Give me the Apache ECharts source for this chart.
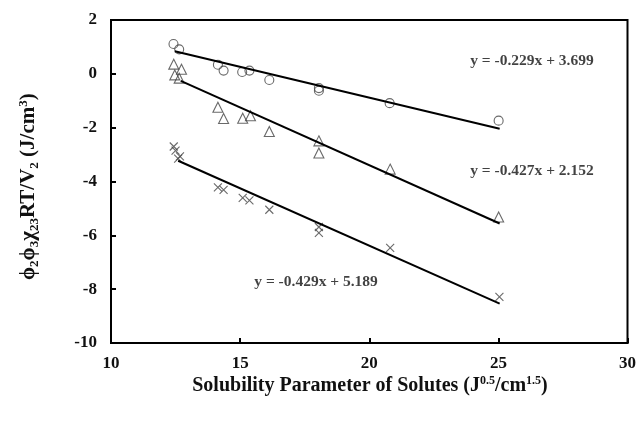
<!DOCTYPE html>
<html><head><meta charset="utf-8">
<script src="https://cdn.jsdelivr.net/npm/echarts@6/dist/echarts.min.js"></script>
<style>html,body{margin:0;padding:0;background:#fff}#c{width:639px;height:421px}</style>
</head><body><div id="c"></div>
<script>
// x values: solubility parameter of solutes
const circleX = [12.42, 12.64, 14.14, 14.36, 15.08, 15.36, 16.13, 18.05, 18.05, 20.79, 25.01];
const circleY = [1.11, 0.91, 0.34, 0.12, 0.07, 0.12, -0.23, -0.53, -0.63, -1.09, -1.74];
const triX = [12.43, 12.73, 12.47, 12.64, 14.14, 14.36, 15.10, 15.40, 16.13, 18.05, 18.05, 20.81, 25.01];
const triY = [0.36, 0.17, -0.04, -0.16, -1.24, -1.66, -1.65, -1.56, -2.14, -2.49, -2.94, -3.54, -5.32];
const crossX = [12.43, 12.50, 12.67, 12.60, 14.14, 14.36, 15.10, 15.36, 16.13, 18.05, 18.05, 20.81, 25.04];
const crossY = [-2.70, -2.85, -3.07, -3.15, -4.22, -4.31, -4.61, -4.70, -5.05, -5.69, -5.91, -6.47, -8.29];
// fitted line end points
const fitCircleX = [12.47, 25.05];
const fitCircleY = [0.84, -2.04];
const fitTriX = [12.70, 25.05];
const fitTriY = [-0.26, -5.56];
const fitCrossX = [12.60, 25.05];
const fitCrossY = [-3.23, -8.54];
// equation annotations
const eqText = ['y = -0.229x + 3.699', 'y = -0.427x + 2.152', 'y = -0.429x + 5.189'];
const eqX = [26.3, 26.3, 17.94];
const eqY = [0.48, -3.6, -7.75];
const xTicks = [10, 15, 20, 25, 30];
const yTicks = [-10, -8, -6, -4, -2, 0, 2];

const zip = (a, b) => a.map((v, i) => [v, b[i]]);
const FONT = '"Liberation Serif", "Times New Roman", serif';
const markStyle = {color: 'transparent', borderColor: '#444', borderWidth: 1.1};
const chart = echarts.init(document.getElementById('c'));
chart.setOption({
  animation: false,
  backgroundColor: '#fff',
  grid: {left: 111, right: 8, top: 20, bottom: 78, show: true, borderColor: '#000', borderWidth: 2, backgroundColor: 'transparent'},
  xAxis: {type: 'value', min: xTicks[0], max: xTicks[xTicks.length - 1], interval: 5,
    splitLine: {show: false},
    axisLine: {onZero: false, lineStyle: {color: '#000', width: 2}},
    axisTick: {inside: true, length: 5, lineStyle: {color: '#000', width: 2}},
    axisLabel: {color: '#111', fontFamily: FONT, fontWeight: 'bold', fontSize: 17, margin: 12}},
  yAxis: {type: 'value', min: yTicks[0], max: yTicks[yTicks.length - 1], interval: 2,
    splitLine: {show: false},
    axisLine: {onZero: false, lineStyle: {color: '#000', width: 2}},
    axisTick: {inside: true, length: 5, lineStyle: {color: '#000', width: 2}},
    axisLabel: {color: '#111', fontFamily: FONT, fontWeight: 'bold', fontSize: 17, margin: 14,
      formatter: v => String(v)}},
  graphic: [
    {type: 'text', x: 370, y: 386, style: {
      text: '{t|Solubility Parameter of Solutes (J}{p|0.5}{t|/cm}{p|1.5}{t|)}',
      align: 'center', verticalAlign: 'middle',
      rich: {t: {fontFamily: FONT, fontWeight: 'bold', fontSize: 20, fill: '#111', lineHeight: 26},
             p: {fontFamily: FONT, fontWeight: 'bold', fontSize: 12, fill: '#111', lineHeight: 26, padding: [0, 0, 10, 0]}}}},
    {type: 'text', x: 16, y: 280, rotation: Math.PI / 2, style: {
      text: '{t|ϕ}{s|2}{t|ϕ}{s|3}{t|χ}{s|23}{t|RT/V}{s|2}{t| (J/cm}{p|3}{t|)}',
      rich: {t: {fontFamily: FONT, fontWeight: 'bold', fontSize: 21, fill: '#111', lineHeight: 26},
             s: {fontFamily: FONT, fontWeight: 'bold', fontSize: 13, fill: '#111', padding: [11, 0, 0, 0], lineHeight: 26},
             p: {fontFamily: FONT, fontWeight: 'bold', fontSize: 13, fill: '#111', padding: [0, 0, 11, 0], lineHeight: 26}}}}
  ],
  series: [
    {type: 'scatter', data: zip(circleX, circleY), symbol: 'circle', symbolSize: 9, itemStyle: markStyle},
    {type: 'scatter', data: zip(triX, triY), symbol: 'triangle', symbolSize: 10, itemStyle: markStyle},
    {type: 'scatter', data: zip(crossX, crossY), symbol: 'path://M0,0L10,10M10,0L0,10', symbolSize: 8, itemStyle: markStyle},
    {type: 'line', data: zip(fitCircleX, fitCircleY), showSymbol: false, lineStyle: {color: '#000', width: 2}},
    {type: 'line', data: zip(fitTriX, fitTriY), showSymbol: false, lineStyle: {color: '#000', width: 2}},
    {type: 'line', data: zip(fitCrossX, fitCrossY), showSymbol: false, lineStyle: {color: '#000', width: 2}},
    {type: 'scatter', data: eqX.map((x, i) => ({value: [x, eqY[i]], name: eqText[i]})), symbolSize: 1,
      itemStyle: {color: 'transparent'},
      label: {show: true, position: 'inside', formatter: p => p.name, fontFamily: FONT, fontWeight: 'bold', fontSize: 15.5, color: '#111'}}
  ]
});
</script></body></html>
